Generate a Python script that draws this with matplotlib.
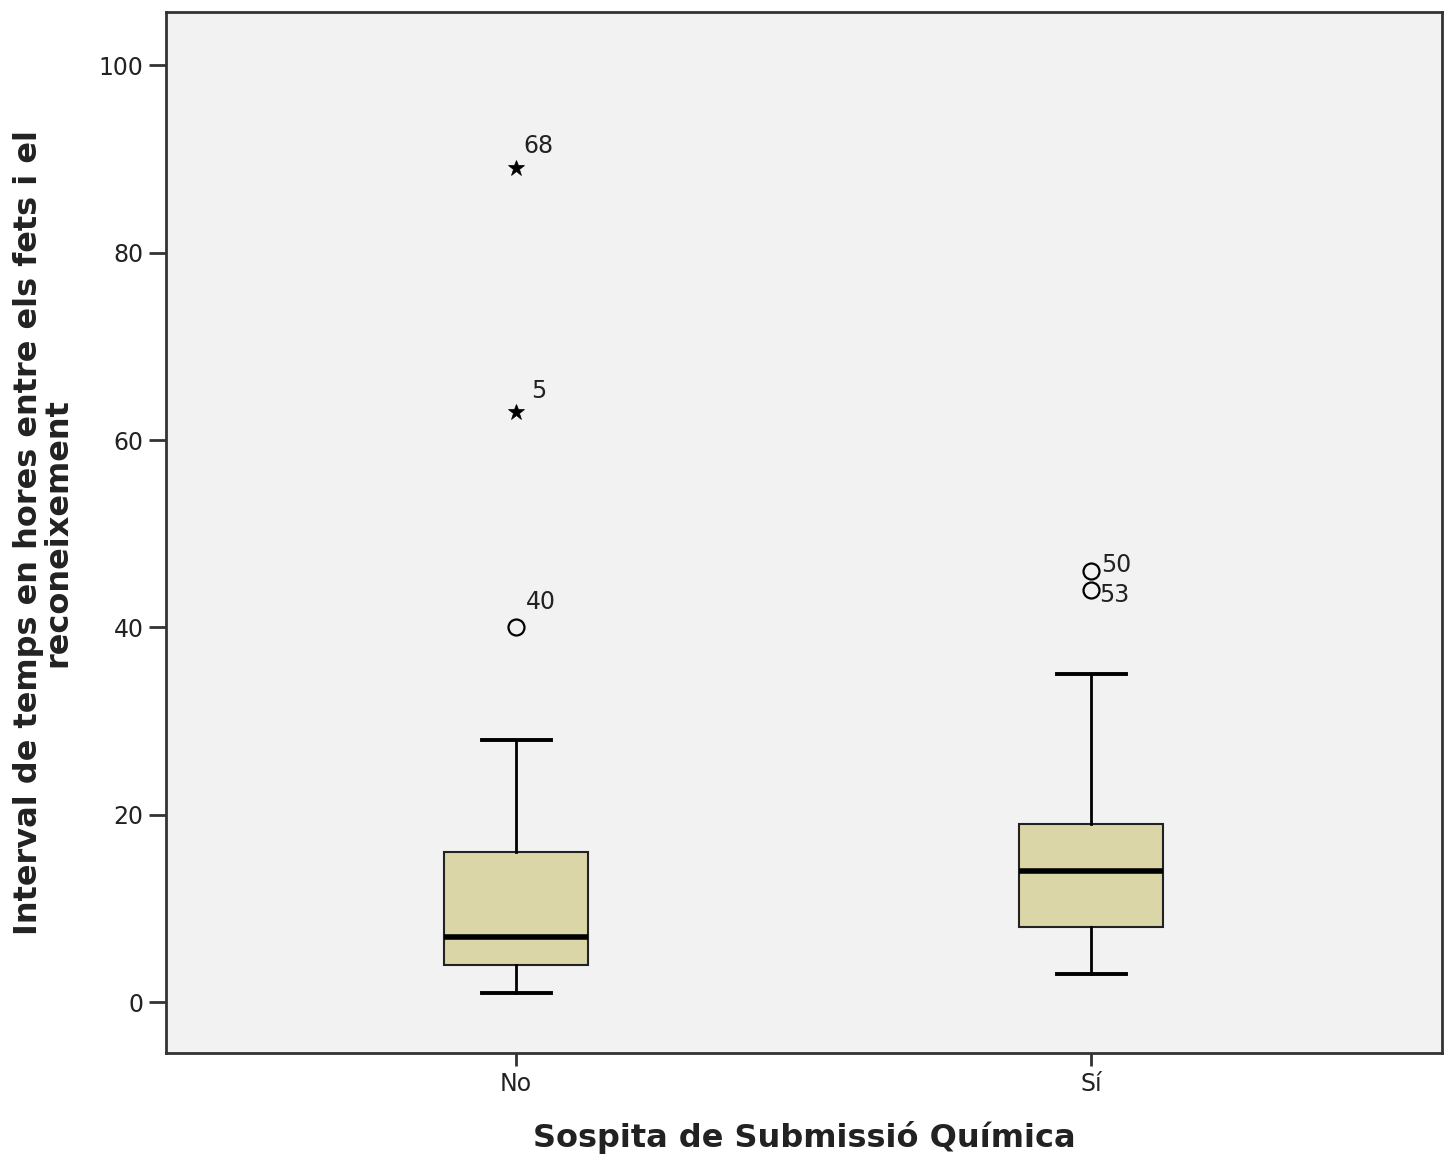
import matplotlib
matplotlib.use("Agg")
import matplotlib.pyplot as plt

# group summaries (hours)
groups = ["No", "Sí"]
q1 = [4, 8]
med = [7, 14]
q3 = [16, 19]
whislo = [1, 3]
whishi = [28, 35]

# outliers per group: (value, case id, kind)
out_vals = [[40, 63, 89], [46, 44]]
out_ids = [["40", "5", "68"], ["50", "53"]]
out_kind = [["o", "*", "*"], ["o", "o"]]

stats = []
for i, g in enumerate(groups):
    stats.append({"label": g, "q1": q1[i], "med": med[i], "q3": q3[i],
                  "whislo": whislo[i], "whishi": whishi[i], "fliers": []})

fig = plt.figure(figsize=(14.53, 11.6), dpi=100)
ax = fig.add_axes([0.1142, 0.0922, 0.8782, 0.8975])
ax.set_facecolor("#f2f2f2")

pos = [1, 2]
ax.bxp(stats, positions=pos, widths=0.25, patch_artist=True, showfliers=False,
       boxprops=dict(facecolor="#dad6a8", edgecolor="#222222", linewidth=1.5),
       medianprops=dict(color="black", linewidth=4),
       whiskerprops=dict(color="black", linewidth=2),
       capprops=dict(color="black", linewidth=2.8),
       capwidths=0.12)

# label offsets (x, y) in data units for each case id
offs = {"40": (0.017, 2.7), "5": (0.026, 2.2), "68": (0.012, 2.4),
        "50": (0.018, 0.7), "53": (0.014, -0.5)}

for i, p in enumerate(pos):
    for v, lab, k in zip(out_vals[i], out_ids[i], out_kind[i]):
        if k == "*":
            ax.plot(p, v, marker="*", ms=12, mfc="black", mec="black", mew=0.5)
        else:
            ax.plot(p, v, marker="o", ms=11.5, mfc="none", mec="black", mew=1.6)
        dx, dy = offs[lab]
        ax.text(p + dx, v + dy, lab, fontsize=17, color="#222222",
                ha="left", va="center")

ax.set_xlim(0.391, 2.61)
ax.set_ylim(-5.44, 105.7)
ax.set_yticks([0, 20, 40, 60, 80, 100])
ax.set_xticks(pos)
ax.set_xticklabels(groups)
ax.tick_params(axis="y", length=12, width=2, labelsize=17, color="#333333",
               labelcolor="#222222", pad=4)
ax.tick_params(axis="x", length=9, width=2, labelsize=17, color="#333333",
               labelcolor="#222222", pad=5)
for s in ax.spines.values():
    s.set_linewidth(2)
    s.set_color("#333333")

ax.set_xlabel("Sospita de Submissió Química", fontsize=23, fontweight="bold",
              color="#222222", labelpad=18)
ax.set_ylabel("Interval de temps en hores entre els fets i el\nreconeixement",
              fontsize=23, fontweight="bold", color="#222222", labelpad=18,
              linespacing=0.95)

fig.savefig("out.png", dpi=100)
